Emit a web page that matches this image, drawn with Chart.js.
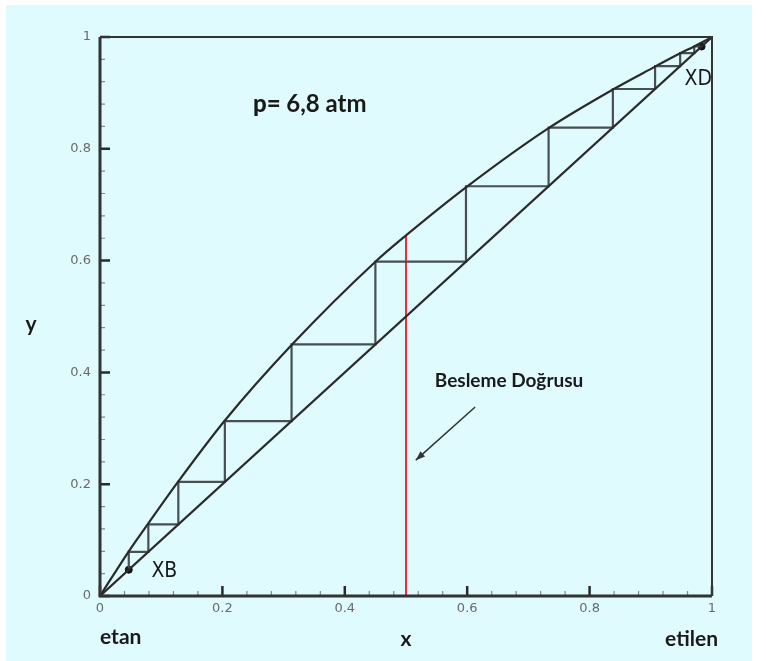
<!DOCTYPE html>
<html>
<head>
<meta charset="utf-8">
<script src="https://cdn.jsdelivr.net/npm/chart.js@4/dist/chart.umd.min.js"></script>
<style>
  html, body { margin: 0; padding: 0; background: #fff; }
  #wrap { width: 766px; height: 661px; }
</style>
</head>
<body>
<div id="wrap"><canvas id="chart" width="766" height="661"></canvas></div>
<script>
// equilibrium curve
const curveX = [0, 0.047, 0.079, 0.128, 0.204, 0.313, 0.450, 0.500, 0.598, 0.733, 0.838, 0.907, 0.948, 0.971, 0.983, 1];
const curveY = [0, 0.080, 0.130, 0.205, 0.314, 0.449, 0.598, 0.645, 0.731, 0.837, 0.906, 0.947, 0.971, 0.983, 0.990, 1];

// y = x diagonal
const diagX = [0, 1];
const diagY = [0, 1];

// stage compositions on the diagonal, from XB up to XD
const stageX = [0.047, 0.079, 0.128, 0.204, 0.313, 0.450, 0.598, 0.733, 0.838, 0.907, 0.948, 0.971, 0.983];

// feed line (q-line, saturated liquid)
const feedX = [0.5, 0.5];
const feedY = [0, 0.645];

const xTicks = [0, 0.2, 0.4, 0.6, 0.8, 1];
const yTicks = [0, 0.2, 0.4, 0.6, 0.8, 1];
const tickLabels = ["0", "0.2", "0.4", "0.6", "0.8", "1"];

const toPts = (xs, ys) => xs.map((x, i) => ({ x: x, y: ys[i] }));

// staircase between curve and diagonal
let steps = [];
for (let i = 0; i < stageX.length - 1; i++) {
    steps.push({ x: stageX[i], y: stageX[i] });
    steps.push({ x: stageX[i], y: stageX[i + 1] });
    steps.push({ x: stageX[i + 1], y: stageX[i + 1] });
}

const ends = [
    { x: stageX[0], y: stageX[0] },
    { x: stageX[stageX.length - 1], y: stageX[stageX.length - 1] }
];

// each note may have several runs drawn one after another
const notes = [
    { x: 0.25, y: 0.866, runs: [["p= ", "900 24px Lato"], ["6,8 atm", "bold 24px Lato"]] },
    { x: 0.547, y: 0.374, runs: [["Besleme Doğrusu", "bold 19px Lato"]] },
    { x: 0.084, y: 0.034, runs: [["XB", "21px 'Liberation Sans Narrow', 'DejaVu Sans Condensed'"]] },
    { x: 0.955, y: 0.915, runs: [["XD", "21px 'Liberation Sans Narrow', 'DejaVu Sans Condensed'"]] }
];

const bgPlugin = {
    id: "bg",
    beforeDraw(chart) {
        const ctx = chart.ctx;
        ctx.save();
        ctx.fillStyle = "#e0fbfd";
        ctx.fillRect(6, 5, 746, 656);
        ctx.restore();
    }
};

const framePlugin = {
    id: "frame",
    afterDatasetsDraw(chart) {
        const ctx = chart.ctx;
        const a = chart.chartArea;
        const xs = chart.scales.x, ys = chart.scales.y;
        ctx.save();

        // inner ticks: minor every 0.04, major every 0.2
        for (let k = 0; k <= 25; k++) {
            const v = k * 0.04;
            const major = k % 5 === 0;
            const len = major ? 10 : 5;
            ctx.strokeStyle = major ? "#2a2a2a" : "#7d8c8e";
            ctx.lineWidth = major ? 2.5 : 1.2;
            const px = xs.getPixelForValue(v);
            const py = ys.getPixelForValue(v);
            ctx.beginPath();
            ctx.moveTo(px, a.bottom);
            ctx.lineTo(px, a.bottom - len);
            ctx.moveTo(a.left, py);
            ctx.lineTo(a.left + len, py);
            ctx.stroke();
        }

        // box
        ctx.strokeStyle = "#333";
        ctx.lineWidth = 2;
        ctx.beginPath();
        ctx.moveTo(a.left, a.top);
        ctx.lineTo(a.right, a.top);
        ctx.lineTo(a.right, a.bottom);
        ctx.stroke();
        ctx.lineWidth = 3;
        ctx.beginPath();
        ctx.moveTo(a.left, a.top);
        ctx.lineTo(a.left, a.bottom);
        ctx.lineTo(a.right, a.bottom);
        ctx.stroke();

        // notes
        ctx.fillStyle = "#1a1a1a";
        ctx.textBaseline = "alphabetic";
        ctx.textAlign = "left";
        notes.forEach(n => {
            let px = xs.getPixelForValue(n.x);
            const py = ys.getPixelForValue(n.y);
            n.runs.forEach(r => {
                ctx.font = r[1];
                ctx.fillText(r[0], px, py);
                px += ctx.measureText(r[0]).width;
            });
        });

        // arrow toward the feed line
        const x1 = xs.getPixelForValue(0.613), y1 = ys.getPixelForValue(0.338);
        const x2 = xs.getPixelForValue(0.516), y2 = ys.getPixelForValue(0.243);
        ctx.strokeStyle = "#333";
        ctx.fillStyle = "#333";
        ctx.lineWidth = 1.5;
        ctx.beginPath();
        ctx.moveTo(x1, y1);
        ctx.lineTo(x2, y2);
        ctx.stroke();
        const ang = Math.atan2(y2 - y1, x2 - x1);
        ctx.beginPath();
        ctx.moveTo(x2, y2);
        ctx.lineTo(x2 - 10 * Math.cos(ang - 0.35), y2 - 10 * Math.sin(ang - 0.35));
        ctx.lineTo(x2 - 10 * Math.cos(ang + 0.35), y2 - 10 * Math.sin(ang + 0.35));
        ctx.closePath();
        ctx.fill();

        // axis titles
        ctx.fillStyle = "#1a1a1a";
        ctx.font = "bold 21px Lato";
        ctx.textAlign = "center";
        ctx.fillText("y", 31, 331);
        ctx.fillText("x", xs.getPixelForValue(0.5), 646);
        ctx.textAlign = "left";
        ctx.fillText("etan", a.left, 644);
        ctx.textAlign = "right";
        ctx.fillText("etilen", a.right + 6, 646);
        ctx.restore();
    }
};

new Chart(document.getElementById("chart"), {
    type: "scatter",
    data: {
        datasets: [
            {
                label: "denge",
                data: toPts(curveX, curveY),
                showLine: true,
                borderColor: "#2a2a2a",
                borderWidth: 2.2,
                pointRadius: 0,
                cubicInterpolationMode: "monotone"
            },
            {
                label: "y=x",
                data: toPts(diagX, diagY),
                showLine: true,
                borderColor: "#2a2a2a",
                borderWidth: 2.2,
                pointRadius: 0
            },
            {
                label: "basamaklar",
                data: steps,
                showLine: true,
                borderColor: "#465052",
                borderWidth: 2.2,
                pointRadius: 0
            },
            {
                label: "besleme",
                data: toPts(feedX, feedY),
                showLine: true,
                borderColor: "#e8191f",
                borderWidth: 1.8,
                pointRadius: 0
            },
            {
                label: "XB/XD",
                data: ends,
                showLine: false,
                pointRadius: 3.5,
                backgroundColor: "#111",
                borderColor: "#111"
            }
        ]
    },
    options: {
        responsive: false,
        animation: false,
        layout: { padding: { top: 37, right: 54, left: 0, bottom: 0 } },
        plugins: {
            legend: { display: false },
            tooltip: { enabled: false }
        },
        scales: {
            x: {
                type: "linear",
                min: 0,
                max: 1,
                afterBuildTicks: s => { s.ticks = xTicks.map(v => ({ value: v })); },
                afterFit: s => { s.height = 65; },
                grid: { display: false, drawTicks: false },
                border: { display: false },
                ticks: {
                    padding: 5,
                    color: "#6a6a6a",
                    font: { family: "DejaVu Sans", size: 13 },
                    callback: (v, i) => tickLabels[i]
                }
            },
            y: {
                type: "linear",
                min: 0,
                max: 1,
                afterBuildTicks: s => { s.ticks = yTicks.map(v => ({ value: v })); },
                afterFit: s => { s.width = 100; },
                grid: { display: false, drawTicks: false },
                border: { display: false },
                ticks: {
                    padding: 9,
                    color: "#6a6a6a",
                    font: { family: "DejaVu Sans", size: 13 },
                    callback: (v, i) => tickLabels[i]
                }
            }
        }
    },
    plugins: [bgPlugin, framePlugin]
});
</script>
</body>
</html>
